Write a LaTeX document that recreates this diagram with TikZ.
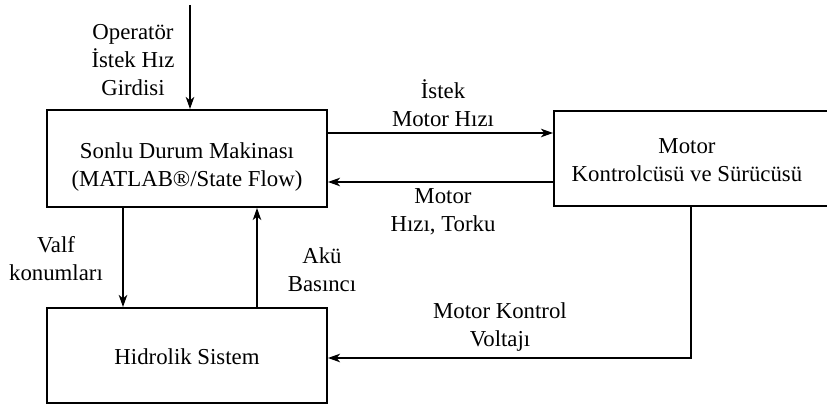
\documentclass[tikz,border=0pt]{standalone}
\usepackage{fontspec}
\setmainfont{Liberation Serif}
\usetikzlibrary{arrows.meta,calc}
\begin{document}
\begin{tikzpicture}[x=0.5pt,y=-0.5pt,
  font=\fontsize{11.4pt}{14pt}\selectfont,
  block/.style={draw,line width=0.95pt,rectangle,inner sep=0pt},
  lbl/.style={align=center,inner sep=0pt},
  arr/.style={line width=0.95pt,-{Stealth[length=6pt,width=4.2pt,inset=1.6pt]}},
  wire/.style={line width=0.95pt}]
\useasboundingbox (0,0) rectangle (827,405);
\clip (0,0) rectangle (827,405);

% blocks
\node[block,minimum width=140pt,minimum height=48.5pt] (fsm) at (187,158.5) {};
\node[lbl] (fsmtext) at (187,167) {Sonlu Durum Makinası\\(MATLAB®/State Flow)};
\node[block,minimum width=146pt,minimum height=47.5pt] (mcd) at (700,158.5) {};
\node[lbl] (mcdtext) at (687,160) {Motor\\Kontrolcüsü ve Sürücüsü};
\node[block,minimum width=140pt,minimum height=47.5pt] (hyd) at (187,355.5) {};
\node[lbl] (hydtext) at (187,357) {Hidrolik Sistem};

% helper coordinates for the connector lanes
\coordinate (src) at (190,5);
\coordinate (laneA) at (0,133);
\coordinate (laneB) at (0,182);
\coordinate (laneV) at (123,0);
\coordinate (laneP) at (257,0);
\coordinate (laneM) at (691,0);
\coordinate (laneC) at (0,358);

% connectors
\draw[arr] (src) -- (src |- fsm.north);
\draw[arr] (fsm.east |- laneA) -- (mcd.west |- laneA);
\draw[arr] (mcd.west |- laneB) -- (fsm.east |- laneB);
\draw[arr] (fsm.south -| laneV) -- (hyd.north -| laneV);
\draw[arr] (hyd.north -| laneP) -- (fsm.south -| laneP);
\draw[arr] (mcd.south -| laneM) -- (laneM |- laneC) -- (hyd.east |- laneC);

% connector labels
\node[lbl] (opin) at (133,60.5) {Operatör\\İstek Hız\\Girdisi};
\node[lbl] (refspd) at (443,103.5) {İstek\\Motor Hızı};
\node[lbl] (fbk) at (443,212) {Motor\\Hızı, Torku};
\node[lbl] (valve) at (56,259) {Valf\\konumları};
\node[lbl] (accp) at (322,270) {Akü\\Basıncı};
\node[lbl] (volt) at (500,327) {Motor Kontrol\\Voltajı};
\end{tikzpicture}
\end{document}
